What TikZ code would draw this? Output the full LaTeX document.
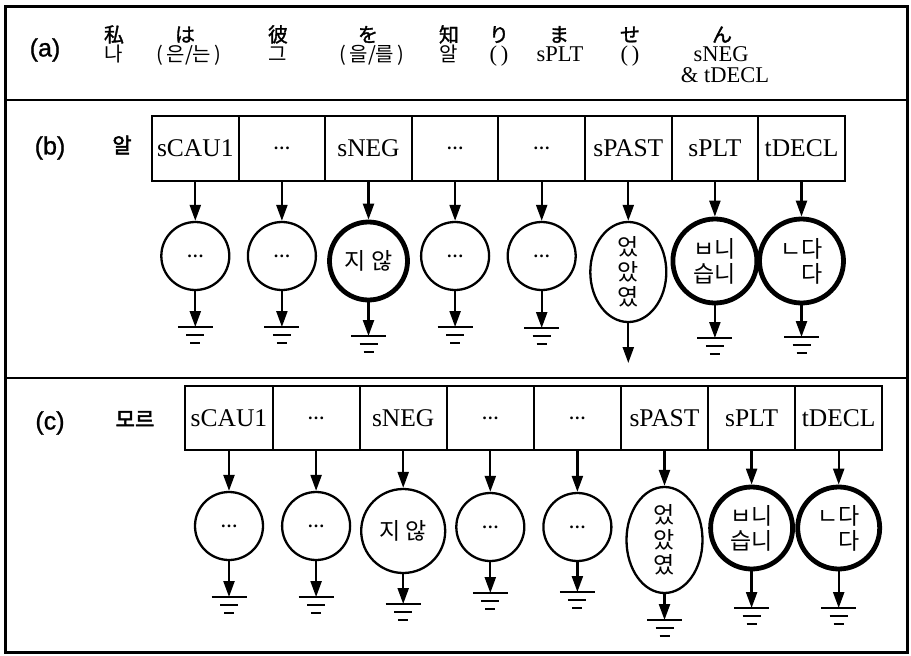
\documentclass[tikz,border=0pt]{standalone}
\usepackage{fontspec}
\usepackage{tikz}
\usetikzlibrary{arrows.meta,shapes.geometric}
\setmainfont{Liberation Serif}
\newfontfamily\labelfont[FakeBold=1]{Liberation Sans}
\newfontfamily\kr{Noto Sans CJK KR}
\newfontfamily\krbold[FakeBold=2.5]{Noto Sans CJK KR}
\newfontfamily\jp[FakeBold=1.5]{Noto Sans CJK JP}
\newcommand{\mdots}{{\normalfont\bfseries\fontsize{17}{17}\selectfont …}}

\begin{document}
\begin{tikzpicture}[x=1pt, y=-1pt,
  slot/.style = {
    rectangle, draw, line width=2pt, outer sep=0pt, inner sep=0pt,
    minimum width=86.6pt, minimum height=65pt, font=\fontsize{25.5}{28}\selectfont
  },
  morph/.style = {
    circle, draw, line width=2.3pt, minimum size=68pt, inner sep=0pt,
    align=center, font=\kr\fontsize{23}{25}\selectfont
  },
  heavy/.style = {line width=4.8pt},
  oval/.style = {morph, ellipse, minimum size=0pt, minimum width=76pt, minimum height=100pt},
  arr/.style = {-{Triangle[length=16pt,width=11pt]}, line width=2.3pt},
  gnd/.pic = {
    \draw[line width=2.4pt] (-17.5,0) -- (17.5,0);
    \draw[line width=2.4pt] (-9,8) -- (9,8);
    \draw[line width=2.4pt] (-5,16) -- (5,16);
  },
  jword/.style = {anchor=base, inner sep=0pt, font=\jp\fontsize{20}{22}\selectfont},
  kword/.style = {anchor=base, inner sep=0pt, font=\kr\fontsize{20}{22}\selectfont},
  sword/.style = {anchor=base, inner sep=0pt, font=\fontsize{22.5}{24}\selectfont},
  panel/.style = {font=\labelfont\fontsize{25}{28}\selectfont},
  stem/.style = {font=\krbold\fontsize{21}{24}\selectfont}
]
  \useasboundingbox (0,0) rectangle (911,656);
  \draw[line width=3pt] (5,6) rectangle (907,652);
  \draw[line width=2.5pt] (5,100) -- (907,100);
  \draw[line width=2.5pt] (5,378) -- (907,378);

  \node[panel] (alab) at (45,50) {(a)};
  \node[jword] (jwatashi) at (114,42) {私};
  \node[jword] (jwa)      at (185,42) {は};
  \node[jword] (jkare)    at (278,42) {彼};
  \node[jword] (jwo)      at (368,42) {を};
  \node[jword] (jshi)     at (449,42) {知};
  \node[jword] (jri)      at (499,42) {り};
  \node[jword] (jma)      at (559,42) {ま};
  \node[jword] (jse)      at (630,42) {せ};
  \node[jword] (jn)       at (722,42) {ん};
  \node[kword] (kna)   at (114,61) {나};
  \node[kword] (kneun) at (189,61) {(\,은/는\,)};
  \node[kword] (kgeu)  at (278,61) {그};
  \node[kword] (kreul) at (372,61) {(\,을/를\,)};
  \node[kword] (kal)   at (449,61) {알};
  \node[sword] (kp1)   at (499,61) {(\,)};
  \node[sword] (kplt)  at (560,61) {sPLT};
  \node[sword] (kp2)   at (630,61) {(\,)};
  \node[sword] (kneg)  at (721,61) {sNEG};
  \node[sword] (kdecl) at (725,82) {\& tDECL};

  \node[panel] (blab) at (50,148) {(b)};
  \node[stem]  (bstem) at (122,145) {알};
  \node[slot] (b1) at (195.3,148.5) {sCAU1};
  \node[slot] (b2) at (281.9,148.5) {\mdots};
  \node[slot] (b3) at (368.5,148.5) {sNEG};
  \node[slot] (b4) at (455.1,148.5) {\mdots};
  \node[slot] (b5) at (541.7,148.5) {\mdots};
  \node[slot] (b6) at (628.3,148.5) {sPAST};
  \node[slot] (b7) at (714.9,148.5) {sPLT};
  \node[slot] (b8) at (801.5,148.5) {tDECL};
  \node[morph] (bm1) at (195.3,256) {\mdots};
  \node[morph] (bm2) at (281.9,256) {\mdots};
  \node[morph, heavy, minimum size=78pt] (bm3) at (368.5,261) {지~않};
  \node[morph] (bm4) at (455.1,256) {\mdots};
  \node[morph] (bm5) at (541.7,256) {\mdots};
  \node[oval]  (bm6) at (628.3,272) {었\\았\\였};
  \node[morph, heavy, minimum size=84pt] (bm7) at (714.9,261) {ㅂ니\\습니};
  \node[morph, heavy, minimum size=84pt, align=right] (bm8) at (801.5,261) {ㄴ다\\다};
  \coordinate (bg1) at (195.3,327);
  \coordinate (bg2) at (281.9,327);
  \coordinate (bg3) at (368.5,336);
  \coordinate (bg4) at (455.1,327);
  \coordinate (bg5) at (541.7,328);
  \coordinate (bg6) at (628.3,363);
  \coordinate (bg7) at (714.9,338);
  \coordinate (bg8) at (801.5,337);
  \pic at (bg1) {gnd};
  \pic at (bg2) {gnd};
  \pic at (bg3) {gnd};
  \pic at (bg4) {gnd};
  \pic at (bg5) {gnd};
  \pic at (bg7) {gnd};
  \pic at (bg8) {gnd};
  \draw[arr] (b1) -- (bm1);
  \draw[arr] (b2) -- (bm2);
  \draw[arr] (b3) -- (bm3);
  \draw[arr] (b4) -- (bm4);
  \draw[arr] (b5) -- (bm5);
  \draw[arr] (b6) -- (bm6);
  \draw[arr] (b7) -- (bm7);
  \draw[arr] (b8) -- (bm8);
  \draw[arr] (bm1) -- (bg1);
  \draw[arr] (bm2) -- (bg2);
  \draw[arr] (bm3) -- (bg3);
  \draw[arr] (bm4) -- (bg4);
  \draw[arr] (bm5) -- (bg5);
  \draw[arr] (bm6) -- (bg6);
  \draw[arr] (bm7) -- (bg7);
  \draw[arr] (bm8) -- (bg8);

  \node[panel] (clab) at (50,423) {(c)};
  \node[stem]  (cstem) at (135,419) {모르};
  \node[slot, minimum width=87.1pt, minimum height=64pt] (c1) at (229,418) {sCAU1};
  \node[slot, minimum width=87.1pt, minimum height=64pt] (c2) at (316.1,418) {\mdots};
  \node[slot, minimum width=87.1pt, minimum height=64pt] (c3) at (403.2,418) {sNEG};
  \node[slot, minimum width=87.1pt, minimum height=64pt] (c4) at (490.3,418) {\mdots};
  \node[slot, minimum width=87.1pt, minimum height=64pt] (c5) at (577.4,418) {\mdots};
  \node[slot, minimum width=87.1pt, minimum height=64pt] (c6) at (664.5,418) {sPAST};
  \node[slot, minimum width=87.1pt, minimum height=64pt] (c7) at (751.6,418) {sPLT};
  \node[slot, minimum width=87.1pt, minimum height=64pt] (c8) at (838.7,418) {tDECL};
  \node[morph] (cm1) at (229,526) {\mdots};
  \node[morph] (cm2) at (316.1,526) {\mdots};
  \node[morph, minimum size=84pt] (cm3) at (403.2,531) {지~않};
  \node[morph] (cm4) at (490.3,527) {\mdots};
  \node[morph] (cm5) at (577.4,527) {\mdots};
  \node[oval, minimum height=106pt] (cm6) at (664.5,540) {었\\았\\였};
  \node[morph, heavy, minimum size=82pt] (cm7) at (751.6,528) {ㅂ니\\습니};
  \node[morph, heavy, minimum size=82pt, align=right] (cm8) at (838.7,528) {ㄴ다\\다};
  \coordinate (cg1) at (229,597);
  \coordinate (cg2) at (316.1,597);
  \coordinate (cg3) at (403.2,604);
  \coordinate (cg4) at (490.3,593);
  \coordinate (cg5) at (577.4,592);
  \coordinate (cg6) at (664.5,620);
  \coordinate (cg7) at (751.6,608);
  \coordinate (cg8) at (838.7,608);
  \pic at (cg1) {gnd};
  \pic at (cg2) {gnd};
  \pic at (cg3) {gnd};
  \pic at (cg4) {gnd};
  \pic at (cg5) {gnd};
  \pic at (cg6) {gnd};
  \pic at (cg7) {gnd};
  \pic at (cg8) {gnd};
  \draw[arr] (c1) -- (cm1);
  \draw[arr] (c2) -- (cm2);
  \draw[arr] (c3) -- (cm3);
  \draw[arr] (c4) -- (cm4);
  \draw[arr] (c5) -- (cm5);
  \draw[arr] (c6) -- (cm6);
  \draw[arr] (c7) -- (cm7);
  \draw[arr] (c8) -- (cm8);
  \draw[arr] (cm1) -- (cg1);
  \draw[arr] (cm2) -- (cg2);
  \draw[arr] (cm3) -- (cg3);
  \draw[arr] (cm4) -- (cg4);
  \draw[arr] (cm5) -- (cg5);
  \draw[arr] (cm6) -- (cg6);
  \draw[arr] (cm7) -- (cg7);
  \draw[arr] (cm8) -- (cg8);
\end{tikzpicture}
\end{document}
